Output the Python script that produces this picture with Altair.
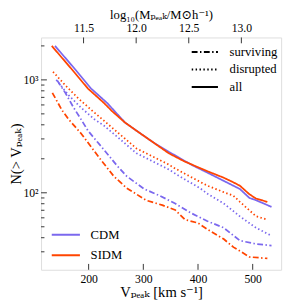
import altair as alt
import pandas as pd

# ---- data ----
sidm_all_V = [132.6, 169.1, 198.8, 228.4, 243.1, 266.7, 287.4, 317.0, 346.4, 374.8, 417.4, 447.0, 465.0, 476.6, 494.0, 506.0, 526.8]
sidm_all_N = [2000, 1243, 837, 622, 527, 418, 355, 282, 224, 190, 155, 136, 123.5, 115.5, 97, 89, 83]

cdm_all_V = [138.5, 175.2, 204.6, 234.2, 266.7, 287.4, 317.0, 346.4, 388.0, 417.4, 447.0, 476.6, 494.0, 506.0, 534.4]
cdm_all_N = [2000, 1243, 837, 622, 418, 355, 282, 231, 177, 150.6, 127.5, 108, 90, 86, 75]

sidm_dis_V = [134.9, 157.4, 181.0, 207.6, 228.4, 266.7, 287.4, 346.4, 358.3, 405.7, 417.4, 447.0, 464.7, 476.6, 506.0, 526.8]
sidm_dis_N = [1181, 895, 686, 528, 433, 301, 247, 178, 164, 123.5, 115.5, 101.3, 94.2, 83.1, 62, 57.8]

cdm_dis_V = [140.8, 163.3, 186.9, 210.6, 228.4, 266.7, 287.4, 346.4, 358.3, 405.7, 417.4, 447.0, 476.6, 506.0, 534.4]
cdm_dis_N = [1000, 734, 563, 448, 392, 273, 224, 161, 148, 108, 98, 80.4, 61.8, 49, 41.6]

cdm_sur_V = [142.6, 157.4, 172.2, 186.9, 198.8, 216.5, 228.4, 251.9, 269.7, 301.6, 328.7, 358.3, 387.9, 417.4, 447.0, 476.6, 506.0, 534.4]
cdm_sur_N = [988, 768, 571, 441, 355, 280, 239, 174, 140, 108, 94.8, 80.4, 65.9, 56, 49, 37.7, 35.2, 34.1]

sidm_sur_V = [133.7, 151.4, 163.3, 186.9, 222.3, 246.1, 269.7, 305.1, 334.7, 358.3, 376.1, 399.6, 417.4, 447.0, 464.7, 494.3, 526.8]
sidm_sur_N = [768, 538, 448, 332, 196, 140, 110, 85.8, 77.7, 70.4, 57.8, 54.1, 47.4, 38.9, 33, 27, 26.2]

models = ["CDM", "SIDM"]
kinds = ["surviving", "disrupted", "all"]
model_colors = ["#7B68EE", "#FF4500"]
kind_dashes = [[6, 2.5, 1.5, 2.5], [1.5, 2.5], [1, 0]]

x_ticks = [200, 300, 400, 500]
y_major = [100, 1000]
y_minor = [30, 40, 50, 60, 70, 80, 90, 200, 300, 400, 500, 600, 700, 800, 900, 2000]
top_ticks = [11.5, 12.0, 12.5, 13.0]

series = [
    ("CDM", "all", cdm_all_V, cdm_all_N),
    ("SIDM", "all", sidm_all_V, sidm_all_N),
    ("CDM", "disrupted", cdm_dis_V, cdm_dis_N),
    ("SIDM", "disrupted", sidm_dis_V, sidm_dis_N),
    ("CDM", "surviving", cdm_sur_V, cdm_sur_N),
    ("SIDM", "surviving", sidm_sur_V, sidm_sur_N),
]
rows = []
for m, k, vs, ns in series:
    for v, n in zip(vs, ns):
        rows.append({"model": m, "kind": k, "V": v, "N": n, "key": m + k})
df = pd.DataFrame(rows)

FONT = "Liberation Serif, DejaVu Serif, serif"
W, H = 247, 239

xscale = alt.Scale(domain=[113, 552], nice=False, zero=False)
yscale = alt.Scale(type="log", domain=[20.8, 2376], nice=False)

lines = alt.Chart(df).mark_line(strokeWidth=1.8, clip=True).encode(
    x=alt.X("V:Q", scale=xscale,
            axis=alt.Axis(values=x_ticks, ticks=False, domain=False, grid=False,
                          labelFontSize=12, labelPadding=4, labelFont=FONT,
                          title="Vₚₑₐₖ [km s⁻¹]", titleFont=FONT, titleFontSize=15,
                          titleFontWeight="normal", titlePadding=1, titleColor="black",
                          labelColor="black")),
    y=alt.Y("N:Q", scale=yscale,
            axis=alt.Axis(values=y_major, ticks=False, domain=False, grid=False,
                          labelExpr="datum.value == 100 ? '10²' : '10³'",
                          labelFontSize=12, labelPadding=3, labelFont=FONT,
                          title="N(> Vₚₑₐₖ)", titleFont=FONT, titleFontSize=15,
                          titleFontWeight="normal", titlePadding=0, titleColor="black",
                          labelColor="black")),
    color=alt.Color("model:N", scale=alt.Scale(domain=models, range=model_colors),
                    legend=alt.Legend(title=None, orient="none", legendX=10, legendY=196,
                                      symbolType="stroke", symbolSize=840, symbolStrokeWidth=2,
                                      clipHeight=14,
                                      labelFont=FONT, labelFontSize=13, labelOffset=10,
                                      rowPadding=7, padding=0, labelColor="black")),
    strokeDash=alt.StrokeDash("kind:N", scale=alt.Scale(domain=kinds, range=kind_dashes),
                              legend=alt.Legend(title=None, orient="none", legendX=154, legendY=8,
                                                symbolType="stroke", symbolSize=729,
                                                symbolStrokeWidth=2, symbolStrokeColor="black",
                                                clipHeight=14,
                                                labelFont=FONT, labelFontSize=13, labelOffset=11,
                                                rowPadding=4, padding=0, labelColor="black")),
    detail="key:N",
)

ymaj_df = pd.DataFrame({"N": y_major})
ymin_df = pd.DataFrame({"N": y_minor})
xt_df = pd.DataFrame({"V": x_ticks})
top_df = pd.DataFrame({"M": top_ticks})

ymaj = alt.Chart(ymaj_df).mark_rule(color="#333", strokeWidth=1).encode(
    y=alt.Y("N:Q", scale=yscale), x=alt.value(0), x2=alt.value(6))
ymin = alt.Chart(ymin_df).mark_rule(color="#333", strokeWidth=1).encode(
    y=alt.Y("N:Q", scale=yscale), x=alt.value(0), x2=alt.value(3.5))
xt = alt.Chart(xt_df).mark_rule(color="#333", strokeWidth=1).encode(
    x=alt.X("V:Q", scale=xscale), y=alt.value(H), y2=alt.value(H - 6))

main = alt.layer(lines, ymaj, ymin, xt)

top = alt.Chart(top_df).mark_rule(color="#333", strokeWidth=1).encode(
    x=alt.X("M:Q", scale=alt.Scale(domain=[11.096, 13.378], nice=False, zero=False),
            axis=alt.Axis(orient="top", values=top_ticks, format=".1f", ticks=False,
                          domain=False, grid=False, labelFontSize=12, labelPadding=3,
                          labelFont=FONT, labelColor="black",
                          title="log₁₀(Mₚₑₐₖ/M⊙h⁻¹)", titleFont=FONT, titleFontSize=13,
                          titleFontWeight="normal", titlePadding=0, titleColor="black")),
    y=alt.value(0), y2=alt.value(6),
)

chart = alt.layer(main, top).resolve_scale(x="independent").properties(
    width=W, height=H,
    autosize=alt.AutoSizeParams(type="none"),
    padding={"left": 34, "top": 26, "right": 5, "bottom": 34},
).configure_view(stroke="#444", strokeWidth=2).configure(background="white", font=FONT)

chart.save("out.html", embed_options={"renderer": "svg", "actions": False})
